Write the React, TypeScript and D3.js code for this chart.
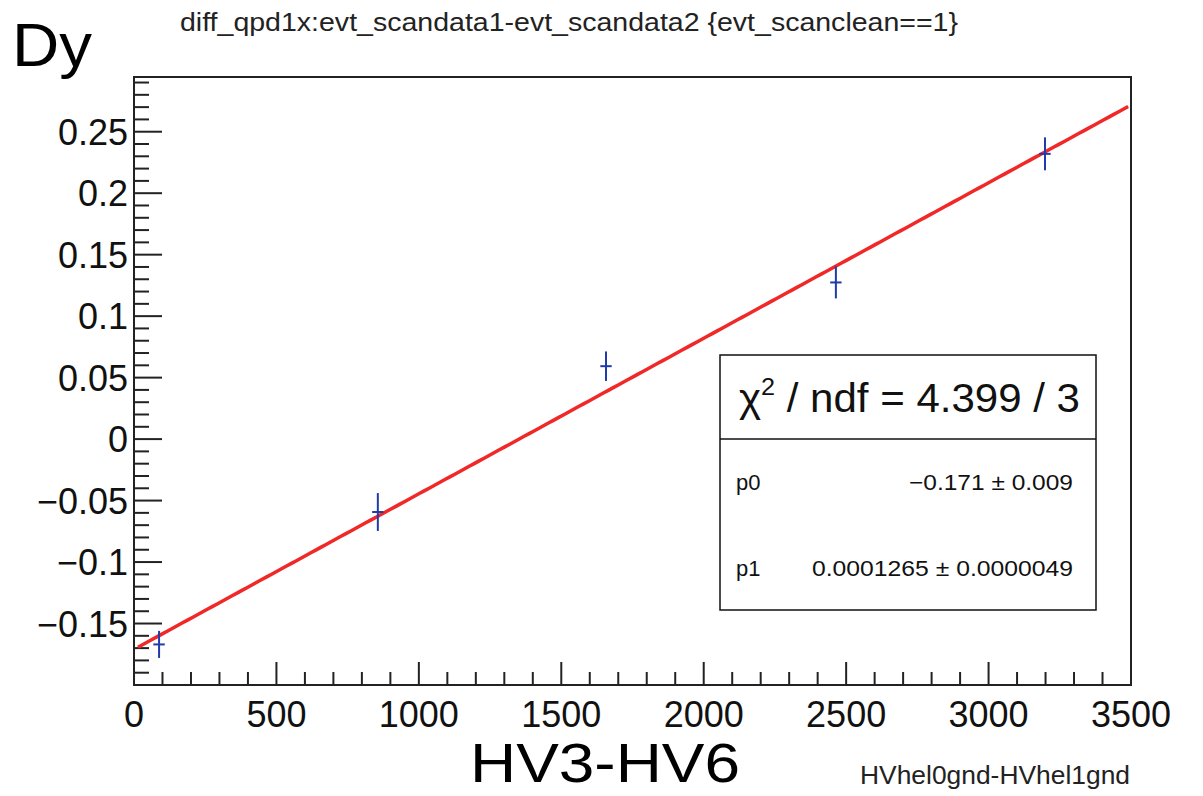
import React from "react";
import * as d3 from "d3";

const titleText = "diff_qpd1x:evt_scandata1-evt_scandata2 {evt_scanclean==1}";
const xValues = [88, 856, 1657, 2464, 3198];
const yValues = [-0.167, -0.0593, 0.0593, 0.1274, 0.232];
const yErrors = [0.011, 0.0154, 0.012, 0.013, 0.0134];
const xErrors = [20, 20, 20, 20, 20];
const fitP0 = -0.171;
const fitP1 = 0.0001265;
const fitRange = [14, 3490];
const xTickValues = [0, 500, 1000, 1500, 2000, 2500, 3000, 3500];
const yTickValues = [-0.15, -0.1, -0.05, 0, 0.05, 0.1, 0.15, 0.2, 0.25];
const yTickLabels = ["\u22120.15", "\u22120.1", "\u22120.05", "0", "0.05", "0.1", "0.15", "0.2", "0.25"];
const statsRows = [
  { name: "p0", value: "\u22120.171 \u00b1 0.009", width: 164 },
  { name: "p1", value: "0.0001265 \u00b1 0.0000049", width: 261 },
];

const FONT = "'Liberation Sans', Arial, Helvetica, sans-serif";

export default function App() {
  const W = 1203, H = 796;
  const left = 134, right = 1131, top = 77, bottom = 685;
  const x = d3.scaleLinear().domain([0, 3500]).range([left, right]);
  const y = d3.scaleLinear().domain([-0.2, 0.2945]).range([bottom, top]);

  const xMinor = d3.range(0, 36).map((i) => i * 100);
  const yMinor = d3.range(-20, 30).map((i) => i / 100);

  const fitXs = d3.range(0, 201).map((i) => fitRange[0] + (i / 200) * (fitRange[1] - fitRange[0]));
  const line = d3
    .line<number>()
    .x((d) => x(d))
    .y((d) => y(fitP0 + fitP1 * d));

  return (
    <svg width={W} height={H} style={{ position: "absolute", left: 0, top: 0, background: "#fff" }}>
      <rect x={0} y={0} width={W} height={H} fill="#fff" />
      <text x={180} y={31} fontFamily={FONT} fontSize={26} textLength={778} lengthAdjust="spacingAndGlyphs" fill="#222">
        {titleText}
      </text>
      <text x={12} y={66} fontFamily={FONT} fontSize={62} textLength={80} lengthAdjust="spacingAndGlyphs" fill="#000">Dy</text>

      {/* frame */}
      <rect x={left} y={top} width={right - left} height={bottom - top} fill="none" stroke="#222" strokeWidth={2} />

      {/* x ticks */}
      {xMinor.map((v) => {
        const major = v % 500 === 0;
        return (
          <line key={"xt" + v} x1={x(v)} x2={x(v)} y1={bottom} y2={bottom - (major ? 23 : 13)} stroke="#222" strokeWidth={2} />
        );
      })}
      {/* y ticks */}
      {yMinor.map((v, i) => {
        const major = (i % 5) === 0;
        return (
          <line key={"yt" + i} x1={left} x2={left + (major ? 28 : 15)} y1={y(v)} y2={y(v)} stroke="#222" strokeWidth={2} />
        );
      })}

      {xTickValues.map((v) => (
        <text key={"xl" + v} x={x(v)} y={727} textAnchor="middle" fontFamily={FONT} fontSize={36} fill="#111">
          {String(v)}
        </text>
      ))}
      {yTickValues.map((v, i) => (
        <text key={"yl" + i} x={128} y={y(v) + 13} textAnchor="end" fontFamily={FONT} fontSize={36} fill="#111">
          {yTickLabels[i]}
        </text>
      ))}

      {/* fit line */}
      <path d={line(fitXs) || ""} fill="none" stroke="#f02828" strokeWidth={3.5} />

      {/* data points */}
      {xValues.map((xv, i) => (
        <g key={"pt" + i} stroke="#1f3caa" strokeWidth={2}>
          <line x1={x(xv)} x2={x(xv)} y1={y(yValues[i] - yErrors[i])} y2={y(yValues[i] + yErrors[i])} />
          <line x1={x(xv - xErrors[i])} x2={x(xv + xErrors[i])} y1={y(yValues[i])} y2={y(yValues[i])} />
        </g>
      ))}

      {/* stats box */}
      <rect x={720} y={355} width={376} height={255} fill="#fff" stroke="#111" strokeWidth={1.5} />
      <line x1={720} x2={1096} y1={439} y2={439} stroke="#111" strokeWidth={1.5} />
      <text x={739} y={412} fontFamily={FONT} fontSize={40} fill="#111" textLength={341} lengthAdjust="spacingAndGlyphs">
        <tspan>{"\u03c7"}</tspan>
        <tspan fontSize={24} dy={-17}>2</tspan>
        <tspan dy={17}>{" / ndf = 4.399 / 3"}</tspan>
      </text>
      {statsRows.map((r, i) => (
        <g key={r.name}>
          <text x={736} y={490 + i * 86} fontFamily={FONT} fontSize={22} fill="#111">{r.name}</text>
          <text x={1073 - r.width} y={490 + i * 86} fontFamily={FONT} fontSize={22} fill="#111" textLength={r.width} lengthAdjust="spacingAndGlyphs">{r.value}</text>
        </g>
      ))}

      <text x={470} y={782} fontFamily={FONT} fontSize={56} textLength={270} lengthAdjust="spacingAndGlyphs" fill="#000">HV3-HV6</text>
      <text x={860} y={784} fontFamily={FONT} fontSize={25} textLength={270} lengthAdjust="spacingAndGlyphs" fill="#222">HVhel0gnd-HVhel1gnd</text>
    </svg>
  );
}
